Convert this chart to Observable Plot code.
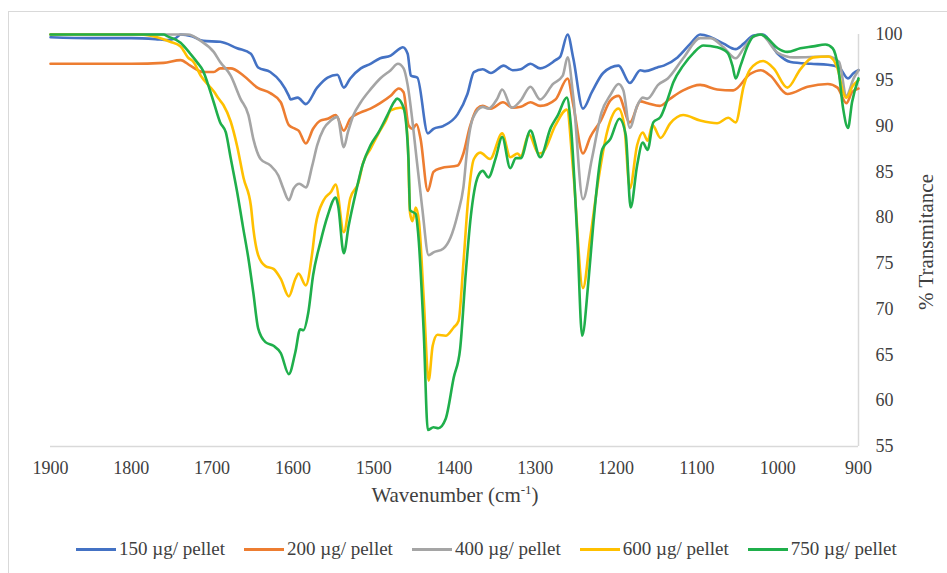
<!DOCTYPE html>
<html>
<head>
<meta charset="utf-8">
<script src="https://cdn.jsdelivr.net/npm/d3@7"></script>
<script src="https://cdn.jsdelivr.net/npm/@observablehq/plot@0.6"></script>
<style>
  html, body { margin: 0; padding: 0; background: #fff; }
  body { width: 947px; height: 573px; overflow: hidden; position: relative; font-family: "Liberation Serif", Tinos, "DejaVu Serif", serif; }
  #frame { position: absolute; left: 8px; top: 11px; width: 1000px; height: 700px; border: 1px solid #d9d9d9; }
  #chart { position: absolute; left: 0; top: 0; }
  #legend { position: absolute; left: 76px; top: 538px; display: flex; align-items: center; font-size: 19px; color: #404040; }
  .item { display: flex; align-items: center; margin-right: 19px; }
  .sw { width: 40px; height: 3px; margin-right: 3px; }
</style>
</head>
<body>
<div id="frame"></div>
<div id="chart"></div>
<div id="legend"></div>
<script>
const seriesLabels = ["150 µg/ pellet", "200 µg/ pellet", "400 µg/ pellet", "600 µg/ pellet", "750 µg/ pellet"];
const seriesColors = ["#4472C4", "#ED7D31", "#A5A5A5", "#FFC000", "#1FAF4B"];
const xTicks = [1900, 1800, 1700, 1600, 1500, 1400, 1300, 1200, 1100, 1000, 900];
const yTicks = [55, 60, 65, 70, 75, 80, 85, 90, 95, 100];

// [wavenumber cm-1, % transmittance]
const s150 = [[1900,99.7],[1850,99.6],[1800,99.6],[1770,99.5],[1755,99.4],[1745,99.6],[1739,100],[1725,99.8],[1711,99.3],[1690,99.2],[1669,98.5],[1652,97.9],[1643,96.4],[1628,95.9],[1615,94.8],[1605,93.3],[1603,92.9],[1594,93.1],[1584,92.4],[1570,94.2],[1557,95.3],[1545,95.6],[1537,94.2],[1529,95.2],[1516,96.3],[1504,96.8],[1492,97.4],[1479,97.7],[1467,98.5],[1464,98.6],[1458,97.9],[1454,95.5],[1446,95.3],[1433,89.2],[1426,89.7],[1414,90.0],[1396,91.3],[1384,93.5],[1376,95.9],[1365,96.2],[1355,95.8],[1339,96.6],[1328,96.1],[1318,96.2],[1306,96.8],[1294,96.3],[1275,97.2],[1269,97.6],[1260,100],[1253,97.4],[1241,91.9],[1230,93.7],[1216,95.8],[1197,96.6],[1183,94.7],[1170,96.1],[1164,96.0],[1149,96.4],[1141,96.6],[1124,97.5],[1108,99.0],[1096,100],[1083,99.7],[1067,99.0],[1052,98.4],[1042,99.0],[1030,99.9],[1018,100],[1000,97.9],[984,97.0],[959,96.8],[938,96.7],[924,96.4],[913,95.2],[906,95.8],[900,96.1]];
const s200 = [[1900,96.8],[1850,96.8],[1800,96.8],[1760,96.9],[1739,97.2],[1727,96.6],[1711,95.9],[1698,95.9],[1690,96.3],[1677,96.3],[1661,95.5],[1644,94.2],[1628,93.6],[1615,92.6],[1605,90.1],[1597,89.7],[1593,89.5],[1584,88.1],[1575,89.7],[1566,90.6],[1557,90.8],[1547,91.2],[1537,89.5],[1529,90.8],[1516,91.5],[1504,91.9],[1492,92.5],[1479,93.3],[1469,94.1],[1463,93.7],[1457,90.1],[1452,89.7],[1447,90.2],[1442,88.6],[1433,82.9],[1426,85.0],[1417,85.4],[1396,85.7],[1389,87.0],[1381,89.9],[1372,91.9],[1365,92.2],[1355,91.9],[1340,92.6],[1328,92.0],[1318,92.1],[1306,92.6],[1294,92.2],[1275,92.9],[1260,95.2],[1253,92.3],[1241,87.0],[1232,88.8],[1219,90.6],[1207,92.8],[1197,93.3],[1183,90.4],[1170,92.7],[1161,92.5],[1146,92.2],[1133,93.0],[1117,93.9],[1096,94.5],[1075,94.0],[1055,93.9],[1034,95.7],[1021,96.1],[1009,95.5],[988,93.5],[963,94.3],[938,94.6],[926,94.2],[915,92.5],[908,93.7],[900,94.1]];
const s400 = [[1900,100],[1800,100],[1730,100],[1714,99.3],[1698,98.1],[1690,97.0],[1677,95.5],[1665,93.0],[1655,91.2],[1649,88.6],[1640,86.4],[1628,85.7],[1618,84.6],[1612,83.2],[1605,81.9],[1599,83.2],[1592,83.7],[1584,83.3],[1576,85.7],[1570,87.9],[1562,89.7],[1553,90.6],[1545,91.0],[1537,87.7],[1532,89.3],[1525,91.2],[1516,92.6],[1504,94.0],[1492,95.2],[1479,96.1],[1470,96.8],[1463,96.3],[1458,94.5],[1452,90.5],[1448,87.3],[1440,81.1],[1432,75.9],[1426,76.2],[1414,76.6],[1405,77.8],[1396,80.4],[1389,83.3],[1384,87.7],[1377,90.9],[1365,92.1],[1358,91.9],[1347,93.0],[1341,94.0],[1329,92.0],[1318,92.8],[1306,94.3],[1294,92.9],[1278,94.6],[1266,95.5],[1260,97.5],[1253,93.2],[1241,82.0],[1230,86.4],[1218,91.5],[1207,93.4],[1197,94.6],[1191,93.9],[1183,89.8],[1174,92.2],[1167,93.1],[1161,93.0],[1148,94.5],[1136,95.2],[1117,97.4],[1096,99.6],[1083,99.6],[1067,98.6],[1052,97.4],[1042,98.5],[1031,99.7],[1021,100],[1000,98.0],[980,97.5],[938,97.6],[924,97.0],[915,93.3],[906,95.2],[900,96.1]];
const s600 = [[1900,100],[1800,100],[1789,100],[1768,99.7],[1752,99.2],[1739,98.7],[1730,97.5],[1723,97.0],[1714,95.5],[1706,94.6],[1698,93.8],[1692,93.0],[1686,92.3],[1677,90.5],[1669,87.8],[1661,84.3],[1652,81.3],[1649,78.8],[1643,75.9],[1634,74.7],[1624,74.4],[1615,73.3],[1605,71.4],[1597,73.3],[1593,73.9],[1584,72.6],[1576,76.2],[1572,79.1],[1562,81.9],[1553,82.8],[1547,83.6],[1537,78.4],[1529,82.1],[1519,83.8],[1513,86.0],[1504,87.5],[1494,89.2],[1485,90.6],[1479,91.7],[1467,92.0],[1463,91.9],[1458,88.5],[1455,80.5],[1452,79.6],[1448,81.1],[1444,79.6],[1438,71.0],[1432,62.2],[1427,66.0],[1421,67.2],[1411,67.1],[1401,68.0],[1395,68.7],[1389,75.0],[1383,82.1],[1376,86.4],[1368,87.1],[1356,86.4],[1341,89.2],[1331,86.6],[1322,87.0],[1318,86.7],[1308,89.1],[1296,87.0],[1291,87.1],[1275,90.1],[1261,91.8],[1253,85.0],[1241,72.3],[1232,77.8],[1223,83.5],[1211,89.4],[1197,91.9],[1190,90.1],[1183,83.2],[1174,87.9],[1167,89.3],[1161,88.4],[1155,90.1],[1145,88.7],[1133,90.3],[1117,91.2],[1096,90.6],[1075,90.3],[1061,90.9],[1052,90.4],[1042,94.4],[1034,96.2],[1018,97.1],[1005,96.3],[988,94.2],[972,96.2],[956,97.5],[937,97.6],[926,96.3],[919,93.7],[915,93.1],[907,94.4],[900,95.0]];
const s750 = [[1900,100],[1800,100],[1760,100],[1755,99.8],[1739,99.1],[1727,97.9],[1718,96.9],[1711,96.0],[1706,94.8],[1698,92.6],[1690,90.4],[1683,89.3],[1677,86.5],[1669,82.8],[1662,79.1],[1655,75.5],[1649,71.8],[1643,67.9],[1634,66.4],[1624,66.0],[1615,65.2],[1605,62.9],[1597,65.3],[1591,67.8],[1587,67.7],[1581,69.6],[1575,73.7],[1566,77.3],[1557,80.2],[1547,82.2],[1544,81.3],[1537,76.1],[1531,79.1],[1522,82.8],[1514,85.7],[1504,87.9],[1494,89.3],[1483,91.2],[1475,92.6],[1471,93.0],[1463,92.0],[1457,86.5],[1455,80.8],[1448,80.4],[1445,78.3],[1438,67.3],[1433,56.8],[1426,57.1],[1420,57.0],[1411,58.0],[1401,62.5],[1393,65.7],[1386,74.0],[1380,80.0],[1371,84.5],[1365,85.1],[1358,84.4],[1349,86.5],[1341,88.8],[1331,85.4],[1324,86.5],[1318,86.5],[1306,89.5],[1294,86.6],[1281,89.8],[1272,91.2],[1261,93.1],[1256,90.1],[1248,77.8],[1242,67.1],[1234,73.3],[1228,79.5],[1217,87.5],[1207,88.6],[1196,90.8],[1188,89.0],[1182,81.1],[1174,85.7],[1167,88.2],[1161,87.4],[1154,90.4],[1145,91.0],[1136,93.0],[1129,94.8],[1117,96.6],[1104,98.0],[1092,98.8],[1075,98.6],[1062,98.0],[1056,96.6],[1052,95.2],[1046,96.6],[1037,98.8],[1030,99.8],[1021,100],[1013,99.6],[1000,98.5],[988,98.1],[972,98.5],[956,98.7],[941,98.9],[932,98.5],[925,96.3],[919,91.9],[913,89.8],[908,92.6],[900,95.2]];

const allSeries = [s150, s200, s400, s600, s750];
const tables = allSeries.map((s, i) => s.map(([w, t]) => ({w, t, series: seriesLabels[i]})));

const FONT = '"Liberation Serif", Tinos, "DejaVu Serif", serif';
const TXT = "#404040";

const chart = Plot.plot({
  width: 947,
  height: 520,
  marginLeft: 50,
  marginRight: 89,
  marginTop: 34,
  marginBottom: 74,
  style: {fontFamily: FONT, fontSize: "18px", color: TXT, background: "transparent"},
  x: {domain: [1900, 900]},
  y: {domain: [55, 100]},
  color: {domain: seriesLabels, range: seriesColors},
  marks: [
    Plot.ruleY([55], {stroke: "#d9d9d9", strokeWidth: 1.5}),
    Plot.ruleX([900], {stroke: "#d9d9d9", strokeWidth: 1.5}),
    Plot.axisX({ticks: xTicks, tickSize: 0, tickPadding: 15, label: null, tickFormat: d => String(d), fill: TXT}),
    Plot.axisY({anchor: "right", ticks: yTicks, tickSize: 0, tickPadding: 17, label: null, tickFormat: d => String(d), fill: TXT}),
    ...tables.map(tb => Plot.line(tb, {x: "w", y: "t", stroke: "series", strokeWidth: 2.6, curve: "monotone-x"}))
  ]
});
document.getElementById("chart").appendChild(chart);

const svg = d3.select(chart);
const xt = svg.append("text")
  .attr("x", 455).attr("y", 502)
  .attr("text-anchor", "middle")
  .style("font-family", FONT).style("font-size", "21px").attr("fill", TXT);
xt.append("tspan").text("Wavenumber (cm");
xt.append("tspan").attr("dy", -8).style("font-size", "13px").text("-1");
xt.append("tspan").attr("dy", 8).text(")");

svg.append("text")
  .attr("transform", "translate(933,242) rotate(-90)")
  .attr("text-anchor", "middle")
  .style("font-family", FONT).style("font-size", "21px").attr("fill", TXT)
  .text("% Transmitance");

const legend = d3.select("#legend");
seriesLabels.forEach((lab, i) => {
  const it = legend.append("div").attr("class", "item");
  it.append("div").attr("class", "sw").style("background", seriesColors[i]);
  it.append("span").text(lab);
});
</script>
</body>
</html>
